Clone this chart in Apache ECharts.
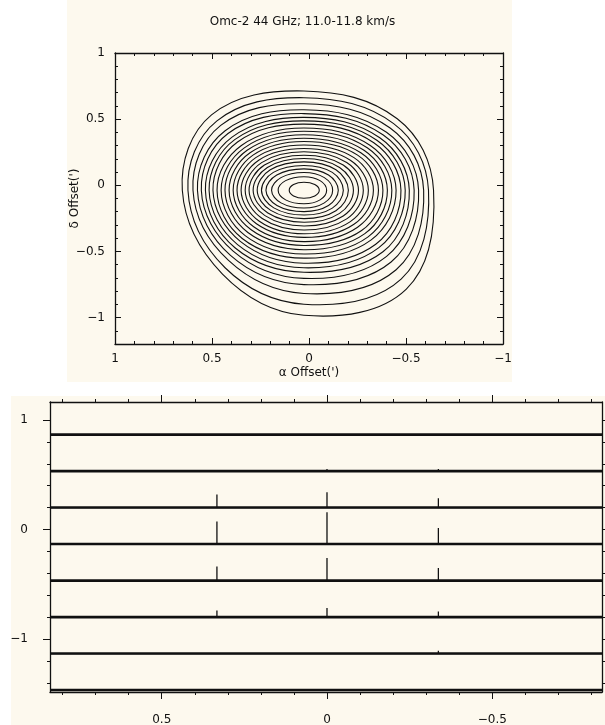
<!DOCTYPE html>
<html>
<head>
<meta charset="utf-8">
<script src="https://cdn.jsdelivr.net/npm/echarts@6/dist/echarts.min.js"></script>
<style>
  html, body { margin: 0; padding: 0; background: #fff; }
  #chart { width: 605px; height: 725px; }
</style>
</head>
<body>
<div id="chart"></div>
<script>
// ── 上圖：Omc-2 44 GHz 等值線圖 ─────────────────────────
const titleText = 'Omc-2 44 GHz; 11.0-11.8 km/s';
const mapXName = 'α Offset(\')';
const mapYName = 'δ Offset(\')';

// 峰值位置（每條等值線的端點都以它為準）
const peakX = 0.026;
const peakY = -0.038;
// 每條等值線在右 / 上 / 左 / 下 四個方向的端點（由外到內）
const contourRight  = [-0.642, -0.616, -0.591, -0.565, -0.542, -0.517, -0.496, -0.474, -0.449, -0.427, -0.404, -0.381,
                       -0.358, -0.332, -0.306, -0.280, -0.255, -0.229, -0.203, -0.177, -0.151, -0.122, -0.091, -0.053];
const contourTop    = [0.713, 0.662, 0.616, 0.571, 0.542, 0.513, 0.487, 0.462, 0.433, 0.408, 0.382, 0.356,
                       0.331, 0.305, 0.278, 0.253, 0.227, 0.202, 0.177, 0.150, 0.124, 0.097, 0.065, 0.023];
const contourLeft   = [0.653, 0.624, 0.598, 0.575, 0.555, 0.534, 0.515, 0.495, 0.474, 0.453, 0.433, 0.412,
                       0.391, 0.371, 0.350, 0.329, 0.309, 0.288, 0.267, 0.245, 0.222, 0.193, 0.159, 0.102];
const contourBottom = [-0.983, -0.899, -0.818, -0.751, -0.704, -0.658, -0.624, -0.589, -0.551, -0.520, -0.487, -0.455,
                       -0.426, -0.394, -0.367, -0.338, -0.308, -0.280, -0.252, -0.225, -0.199, -0.172, -0.140, -0.098];
// 四個斜角方向延伸多遠（相對於端點，0.707 即橢圓）
const cornerNE = [0.72, 0.72, 0.72, 0.72, 0.72, 0.72, 0.72, 0.72, 0.72, 0.72, 0.72, 0.72,
                  0.72, 0.72, 0.72, 0.72, 0.72, 0.72, 0.72, 0.72, 0.715, 0.71, 0.71, 0.707];
const cornerNW = [0.76, 0.75, 0.75, 0.74, 0.74, 0.73, 0.73, 0.73, 0.72, 0.72, 0.72, 0.72,
                  0.72, 0.72, 0.72, 0.72, 0.72, 0.72, 0.72, 0.72, 0.715, 0.71, 0.71, 0.707];
const cornerSW = [0.67, 0.68, 0.68, 0.69, 0.69, 0.70, 0.70, 0.70, 0.71, 0.71, 0.71, 0.71,
                  0.71, 0.71, 0.71, 0.71, 0.71, 0.71, 0.71, 0.71, 0.71, 0.71, 0.71, 0.707];
const cornerSE = [0.79, 0.78, 0.77, 0.76, 0.75, 0.75, 0.74, 0.74, 0.73, 0.73, 0.73, 0.73,
                  0.72, 0.72, 0.72, 0.72, 0.72, 0.72, 0.72, 0.72, 0.715, 0.71, 0.71, 0.707];

const mapXMajor = [-1, -0.5, 0, 0.5, 1];
const mapXMinor = [-0.9, -0.8, -0.7, -0.6, -0.4, -0.3, -0.2, -0.1, 0.1, 0.2, 0.3, 0.4, 0.6, 0.7, 0.8, 0.9];
const mapYMajor = [-1, -0.5, 0, 0.5, 1];
const mapYMinor = [-1.1, -0.9, -0.8, -0.7, -0.6, -0.4, -0.3, -0.2, -0.1, 0.1, 0.2, 0.3, 0.4, 0.6, 0.7, 0.8, 0.9];

// ── 下圖：各列光譜（基線 + 三個尖峰） ──────────────────
const rowBase = [0.866, 0.533, 0.2, -0.133, -0.467, -0.8, -1.133, -1.466];
const spikeX  = [0.333, 0, -0.337];
const spikeH  = [
  [0, 0, 0],
  [0, 0.02, 0.02],
  [0.12, 0.14, 0.085],
  [0.206, 0.29, 0.146],
  [0.128, 0.207, 0.116],
  [0.06, 0.082, 0.052],
  [0.01, 0.018, 0.025],
  [0, 0, 0],
];
const specXMajor = [-0.5, 0, 0.5];
const specXMinor = [-0.8, -0.7, -0.6, -0.4, -0.3, -0.2, -0.1, 0.1, 0.2, 0.3, 0.4, 0.6, 0.7, 0.8];
const specYMajor = [-1, 0, 1];
const specYMinor = [-1.4, -1.2, -0.8, -0.6, -0.4, -0.2, 0.2, 0.4, 0.6, 0.8];

// ── 樣式 ───────────────────────────────────────────────
const ink   = '#111';
const beige = '#fdf9ee';
const font  = 'DejaVu Sans';

const fmt = v => (v < 0 ? '−' : '') + String(Math.abs(v));

// 軸：只畫刻度（主刻度 / 次刻度分開兩條軸疊在一起）
function axis(grid, pos, range, inverse, ticks, len, inside, extra) {
  return Object.assign({
    type: 'value', gridIndex: grid, position: pos,
    min: range[0], max: range[1], inverse,
    axisLine: { show: false, onZero: false, lineStyle: { color: ink, width: 1.3 } },
    axisTick: { show: true, inside, length: len, customValues: ticks,
                lineStyle: { color: ink, width: 1 } },
    axisLabel: { show: false },
    splitLine: { show: false },
    minorTick: { show: false },
  }, extra || {});
}
function labels(values, margin) {
  return { show: true, customValues: values, formatter: fmt, margin,
           color: ink, fontSize: 12, fontFamily: font };
}

const mapXR = [-1, 1], mapYR = [-1.2, 1];
const specXR = [-0.832, 0.838], specYR = [-1.484, 1.164];
const lineOn = { show: true, onZero: false, lineStyle: { color: ink, width: 1.3 } };
const nameStyle = { color: ink, fontSize: 12, fontFamily: font };

const xAxes = [
  axis(0, 'bottom', mapXR, true, mapXMajor, 6, true, {
    axisLine: lineOn, axisLabel: labels(mapXMajor, 9),
    name: mapXName, nameLocation: 'middle', nameGap: 23, nameMoveOverlap: false,
    nameTextStyle: nameStyle }),
  axis(0, 'bottom', mapXR, true, mapXMinor, 3, true),
  axis(0, 'top', mapXR, true, mapXMajor, 6, true, { axisLine: lineOn }),
  axis(0, 'top', mapXR, true, mapXMinor, 3, true),
  axis(1, 'bottom', specXR, true, specXMajor, 7, false, {
    axisLine: lineOn, axisLabel: labels(specXMajor, 22) }),
  axis(1, 'bottom', specXR, true, specXMinor, 3, false),
  axis(1, 'top', specXR, true, specXMajor, 7, false, { axisLine: lineOn }),
  axis(1, 'top', specXR, true, specXMinor, 3, false),
];
const yAxes = [
  axis(0, 'left', mapYR, false, mapYMajor, 6, true, {
    axisLine: lineOn, axisLabel: labels(mapYMajor, 10),
    name: mapYName, nameLocation: 'middle', nameGap: 34, nameMoveOverlap: false,
    nameTextStyle: nameStyle }),
  axis(0, 'left', mapYR, false, mapYMinor, 3, true),
  axis(0, 'right', mapYR, false, mapYMajor, 6, true, { axisLine: lineOn }),
  axis(0, 'right', mapYR, false, mapYMinor, 3, true),
  axis(1, 'left', specYR, false, specYMajor, 7, false, {
    axisLine: lineOn, axisLabel: labels(specYMajor, 22) }),
  axis(1, 'left', specYR, false, specYMinor, 3, false),
  axis(1, 'right', specYR, false, specYMajor, 7, false, { axisLine: lineOn }),
  axis(1, 'right', specYR, false, specYMinor, 3, false),
];

// ── 等值線：八個點（四端點 + 四斜角）做閉合平滑多邊形 ──
const contourSeries = {
  type: 'custom',
  coordinateSystem: 'cartesian2d',
  xAxisIndex: 0, yAxisIndex: 0,
  silent: true, clip: false, animation: false,
  data: contourTop.map((t, i) => [peakX, t]),
  renderItem: (params, api) => {
    const k = params.dataIndex;
    const r = contourRight[k], t = contourTop[k], l = contourLeft[k], b = contourBottom[k];
    const pts = [
      [r, peakY],
      [peakX + (r - peakX) * cornerNE[k], peakY + (t - peakY) * cornerNE[k]],
      [peakX, t],
      [peakX + (l - peakX) * cornerNW[k], peakY + (t - peakY) * cornerNW[k]],
      [l, peakY],
      [peakX + (l - peakX) * cornerSW[k], peakY + (b - peakY) * cornerSW[k]],
      [peakX, b],
      [peakX + (r - peakX) * cornerSE[k], peakY + (b - peakY) * cornerSE[k]],
    ].map(p => api.coord(p));
    return {
      type: 'polygon',
      shape: { points: pts, smooth: 0.38 },
      style: { fill: 'none', stroke: ink, lineWidth: 1.1 },
    };
  },
};

// ── 光譜列 ─────────────────────────────────────────────
function rowLine(k) {
  const base = rowBase[k];
  const pts = [[specXR[1], base]];
  spikeX.forEach((x, j) => {
    pts.push([x, base], [x, base + spikeH[k][j]], [x, base]);
  });
  pts.push([specXR[0], base]);
  return pts;
}
const specSeries = [];
rowBase.forEach((b, k) => {
  specSeries.push({
    type: 'line', xAxisIndex: 4, yAxisIndex: 4,
    data: [[specXR[1], b], [specXR[0], b]],
    symbol: 'none', silent: true, animation: false,
    lineStyle: { color: ink, width: 2.6 },
  });
  specSeries.push({
    type: 'line', xAxisIndex: 4, yAxisIndex: 4,
    data: rowLine(k),
    symbol: 'none', silent: true, animation: false,
    lineStyle: { color: ink, width: 1.3 },
  });
});

const chart = echarts.init(document.getElementById('chart'), null, { renderer: 'canvas' });
chart.setOption({
  backgroundColor: '#fff',
  animation: false,
  title: {
    text: titleText, left: 'center', top: 11,
    textStyle: { color: ink, fontSize: 12, fontWeight: 'normal', fontFamily: font },
  },
  graphic: [
    { type: 'rect', z: -10, silent: true, shape: { x: 67, y: 0, width: 445, height: 382 }, style: { fill: beige } },
    { type: 'rect', z: -10, silent: true, shape: { x: 11, y: 396, width: 594, height: 329 }, style: { fill: beige } },
  ],
  grid: [
    { left: 115, top: 53, width: 388, height: 291, outerBoundsMode: 'none' },
    { left: 50, top: 402, width: 552, height: 290, outerBoundsMode: 'none' },
  ],
  xAxis: xAxes,
  yAxis: yAxes,
  series: [contourSeries].concat(specSeries),
});
window.addEventListener('resize', () => chart.resize());
</script>
</body>
</html>
